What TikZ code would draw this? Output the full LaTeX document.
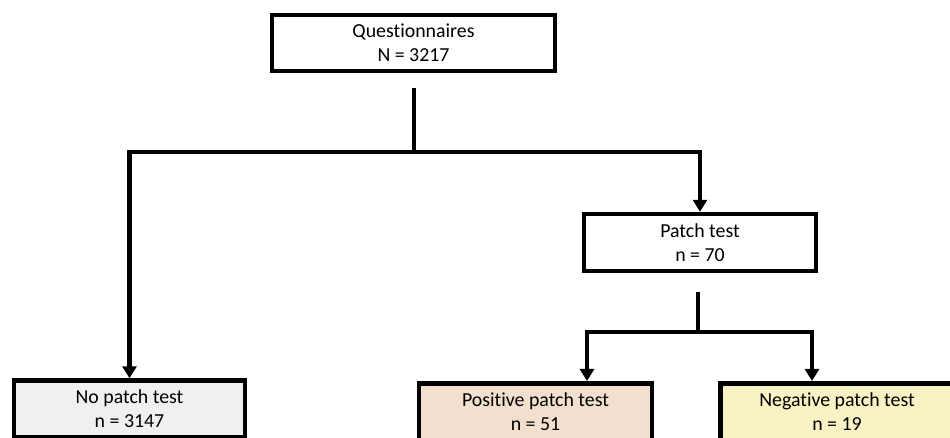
\documentclass[tikz,border=0pt]{standalone}
\usepackage{fontspec}
\setmainfont{Carlito}[Ligatures=NoCommon]
\usetikzlibrary{arrows.meta}

\definecolor{nofill}{RGB}{240,240,240}
\definecolor{posfill}{RGB}{242,223,206}
\definecolor{negfill}{RGB}{249,242,196}

\begin{document}
\begin{tikzpicture}[x=0.02cm,y=-0.02cm,
  >={Triangle[length=0.24cm,width=0.28cm]},
  line width=0.09cm,
  box/.style={draw,rectangle,align=center,minimum width=4.64cm,minimum height=1.14cm,
    font=\fontsize{11.3}{13.6}\selectfont}]
\clip (0,0) rectangle (950,438);

% define the boxes
  \node[box, minimum width=5.66cm, minimum height=1.12cm] (quest)   at (413.5,43)  {Questionnaires\\N = 3217};
  \node[box]                 (patch)   at (700,242.5) {Patch test\\n = 70};
  \node[box, fill=nofill, minimum width=4.62cm]    (nopatch) at (129.5,409) {No patch test\\n = 3147};
  \node[box, fill=posfill, minimum width=4.66cm]   (pos)     at (535.5,412) {Positive patch test\\n = 51};
  \node[box, fill=negfill, minimum width=4.66cm]   (neg)     at (837,412)   {Negative patch test\\n = 19};

% points where the lines split
  \coordinate (stem1)  at (414,88);
  \coordinate (split1) at (414,152);
  \coordinate (stem2)  at (698,292);
  \coordinate (split2) at (698,332);
  \coordinate (posin)  at (587,381);
  \coordinate (negin)  at (812,381);

% define the links
  \draw (stem1) -- (split1);
  \draw[->] (split1) -| (nopatch.north);
  \draw[->] (split1) -| (patch.north);
  \draw (stem2) -- (split2);
  \draw[->] (split2) -| (posin);
  \draw[->] (split2) -| (negin);

\end{tikzpicture}
\end{document}
